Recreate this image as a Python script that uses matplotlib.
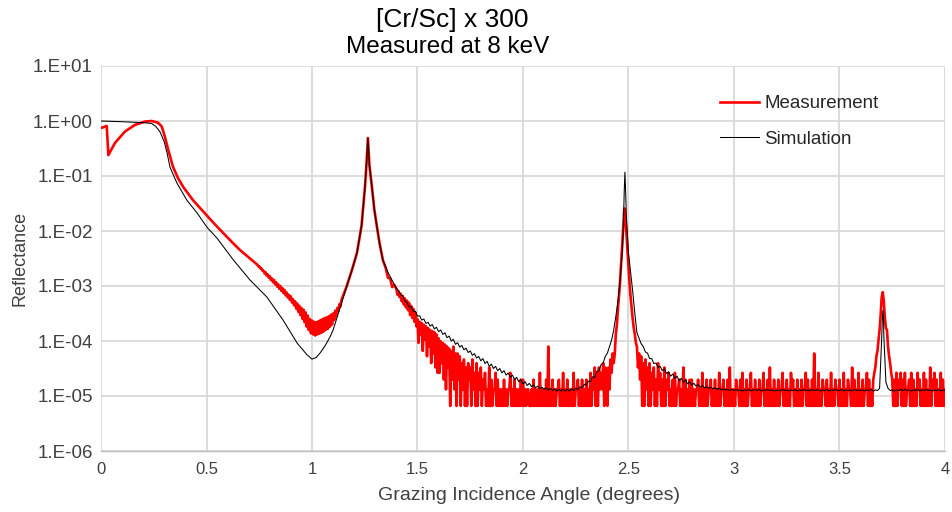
import numpy as np
import matplotlib
matplotlib.use("Agg")
import matplotlib.pyplot as plt
from matplotlib.ticker import FixedLocator, FuncFormatter

plt.rcParams["font.family"] = ["Liberation Sans", "DejaVu Sans"]

title = "[Cr/Sc] x 300"
subtitle = "Measured at 8 keV"
xlabel = "Grazing Incidence Angle (degrees)"
ylabel = "Reflectance"
xticks = [0, 0.5, 1, 1.5, 2, 2.5, 3, 3.5, 4]
yticks = [1e-6, 1e-5, 1e-4, 1e-3, 1e-2, 1e-1, 1e0, 1e1]

meas_x_a = [0.000, 0.006, 0.027, 0.035, 0.066, 0.114, 0.161, 0.209, 0.240, 0.270,
            0.288, 0.303, 0.319, 0.341, 0.365, 0.39, 0.436, 0.50, 0.54, 0.58,
            0.62, 0.66, 0.70]
meas_log_a = [-0.125, -0.12, -0.09, -0.62, -0.40, -0.19, -0.07, -0.01, 0.0, -0.03,
              -0.10, -0.29, -0.53, -0.83, -1.04, -1.20, -1.44, -1.71, -1.88, -2.04,
              -2.20, -2.35, -2.48]

# 0.740 .. 1.140 every 0.005 deg (noisy part around the minimum)
meas_log_b = [-2.61, -2.64, -2.64, -2.68, -2.68, -2.72, -2.72, -2.77, -2.75, -2.81,
              -2.79, -2.85, -2.82, -2.89, -2.86, -2.93, -2.89, -2.97, -2.93, -3.01,
              -2.97, -3.05, -3.00, -3.09, -3.04, -3.13, -3.07, -3.17,
              -3.12, -3.21, -3.16, -3.25, -3.19,
              -3.30, -3.24, -3.35, -3.28, -3.41, -3.32, -3.47, -3.36, -3.53, -3.40,
              -3.60, -3.43, -3.66, -3.48, -3.74, -3.54, -3.80, -3.60, -3.86, -3.63,
              -3.88, -3.65, -3.90, -3.66, -3.88, -3.64, -3.87, -3.62, -3.85, -3.60,
              -3.83, -3.58, -3.80, -3.57, -3.78, -3.55, -3.74, -3.52, -3.70, -3.50,
              -3.62, -3.45, -3.55, -3.40, -3.45, -3.33, -3.37, -3.25]

# first Bragg peak
meas_x_c = [1.165, 1.19, 1.213, 1.235, 1.251, 1.258, 1.265, 1.272, 1.284, 1.295,
            1.308, 1.32, 1.336, 1.35, 1.36, 1.37, 1.38, 1.39]
meas_log_c = [-3.0, -2.7, -2.4, -1.9, -1.2, -0.8, -0.31, -0.8, -1.2, -1.6,
              -1.93, -2.22, -2.53, -2.68, -2.85, -2.86, -3.02, -2.98]

# 1.400 .. 4.000 every 0.005 deg, detector counts
count_unit = 6.6e-6
meas_counts_tail = [
    135, 105, 120, 95, 110, 80, 100, 70, 90, 62, 82, 55, 75, 45, 66, 40, 58, 34, 50, 28,   # 1.40
    38, 14, 34, 20, 32, 10, 30, 16, 28, 8, 26, 12, 24, 6, 23, 9, 22, 5, 20, 4,            # 1.50
    17, 4, 15, 6, 14, 3, 13, 2, 12, 5, 11, 1, 10, 3, 12, 2, 9, 1, 9, 3,                   # 1.60
    8, 1, 6, 2, 7, 1, 5, 1, 6, 3, 5, 1, 7, 2, 4, 1, 6, 1, 4, 2,                           # 1.70
    5, 1, 3, 2, 4, 1, 2, 1, 5, 1, 3, 1, 2, 2, 4, 1, 3, 1, 2, 1,                           # 1.80
    2, 1, 3, 1, 2, 1, 2, 2, 4, 1, 2, 1, 3, 1, 2, 1, 2, 1, 3, 1,                           # 1.90
    3, 1, 2, 1, 2, 2, 1, 1, 2, 1, 3, 1, 2, 1, 2, 1, 4, 1, 2, 1,                           # 2.00
    2, 1, 3, 1, 12, 1, 2, 1, 3, 1, 2, 1, 2, 2, 3, 1, 2, 1, 4, 1,                          # 2.10
    2, 1, 3, 1, 2, 1, 2, 1, 4, 1, 2, 2, 3, 1, 2, 1, 3, 1, 2, 1,                           # 2.20
    3, 1, 2, 1, 4, 1, 3, 2, 5, 1, 4, 1, 5, 2, 4, 2, 6, 1, 5, 2,                           # 2.30
    1, 5, 2, 7, 4, 9, 6, 9, 20, 30, 60, 100, 180, 400, 800, 1800, 3900, 2600, 1400, 700,  # 2.40
    350, 170, 95, 60, 38, 26, 20, 14, 12, 5, 9, 3, 8, 1, 6, 1, 7, 2, 5, 1,                # 2.50
    6, 1, 4, 2, 5, 1, 3, 1, 6, 2, 4, 1, 3, 1, 5, 1, 3, 2, 4, 1,                           # 2.60
    2, 1, 3, 1, 4, 1, 2, 2, 3, 1, 2, 1, 5, 1, 3, 1, 2, 1, 3, 1,                           # 2.70
    3, 1, 2, 1, 2, 2, 3, 1, 2, 1, 4, 1, 2, 1, 3, 1, 2, 2, 3, 1,                           # 2.80
    2, 1, 3, 1, 2, 1, 4, 1, 2, 2, 3, 1, 2, 1, 3, 1, 5, 1, 2, 1,                           # 2.90
    2, 1, 3, 2, 2, 1, 3, 1, 4, 1, 2, 1, 3, 1, 2, 2, 4, 1, 2, 1,                           # 3.00
    3, 1, 2, 1, 3, 1, 2, 2, 4, 1, 2, 1, 3, 1, 5, 1, 2, 1, 3, 1,                           # 3.10
    2, 1, 3, 1, 2, 2, 4, 1, 2, 1, 3, 1, 2, 1, 4, 2, 3, 1, 2, 1,                           # 3.20
    3, 1, 2, 1, 3, 1, 2, 2, 4, 1, 3, 1, 2, 1, 3, 1, 9, 1, 2, 1,                           # 3.30
    4, 1, 2, 1, 3, 2, 2, 1, 3, 1, 2, 1, 4, 1, 2, 1, 3, 2, 2, 1,                           # 3.40
    3, 1, 2, 1, 4, 1, 2, 1, 3, 2, 2, 1, 5, 1, 3, 1, 2, 1, 4, 1,                           # 3.50
    2, 1, 3, 1, 2, 2, 4, 1, 3, 1, 2, 1, 3, 4, 5, 8, 10, 16, 24, 45,                       # 3.60
    95, 117, 80, 40, 26, 24, 12, 8, 6, 4, 3, 1, 3, 1, 4, 1, 3, 2, 4, 1,                   # 3.70
    3, 1, 4, 1, 2, 2, 3, 1, 4, 1, 3, 1, 2, 1, 4, 2, 3, 1, 2, 1,                           # 3.80
    4, 1, 3, 1, 2, 1, 5, 1, 3, 2, 4, 1, 3, 1, 2, 1, 4, 1, 3, 1,                           # 3.90
    2]

# ---- simulation (log10 of reflectance) ----
sim_x_a = [0.00, 0.10, 0.20, 0.24, 0.26, 0.28, 0.30, 0.313, 0.327, 0.36,
           0.407, 0.455, 0.502, 0.55, 0.626, 0.706, 0.786, 0.863, 0.93, 0.976,
           1.00, 1.02, 1.038, 1.06, 1.085, 1.10, 1.133, 1.165, 1.19, 1.213,
           1.235, 1.251, 1.258, 1.265, 1.272, 1.284, 1.295, 1.308, 1.32, 1.336,
           1.36, 1.38]
sim_log_a = [0.00, -0.013, -0.03, -0.045, -0.10, -0.20, -0.38, -0.58, -0.84, -1.13,
             -1.44, -1.67, -1.93, -2.13, -2.52, -2.89, -3.2, -3.62, -4.04, -4.25,
             -4.33, -4.30, -4.22, -4.10, -3.93, -3.80, -3.40, -3.0, -2.7, -2.4,
             -1.9, -1.2, -0.8, -0.31, -0.8, -1.2, -1.6, -1.93, -2.22, -2.53,
             -2.75, -2.9]

# 1.40 .. 4.00 every 0.01 deg
sim_log_tail = [
    -3.05, -3.08, -3.16, -3.18, -3.27, -3.30, -3.38, -3.38, -3.46, -3.46,
    -3.55, -3.54, -3.62, -3.60, -3.68, -3.66, -3.73, -3.70, -3.78, -3.75,
    -3.83, -3.80, -3.88, -3.85, -3.94, -3.91, -4.00, -3.97, -4.06, -4.03,
    -4.11, -4.08, -4.16, -4.13, -4.21, -4.18, -4.26, -4.23, -4.31, -4.28,
    -4.36, -4.32, -4.41, -4.37, -4.46, -4.42, -4.50, -4.46, -4.54, -4.50,
    -4.58, -4.54, -4.62, -4.58, -4.66, -4.62, -4.70, -4.66, -4.74, -4.70,
    -4.78, -4.74, -4.81, -4.77, -4.83, -4.80, -4.85, -4.82, -4.87, -4.84,
    -4.88, -4.85, -4.89, -4.86, -4.90, -4.87, -4.91, -4.88, -4.91, -4.88,
    -4.91, -4.88, -4.91, -4.87, -4.90, -4.86, -4.88, -4.83, -4.85, -4.79,
    -4.80, -4.73, -4.74, -4.65, -4.66, -4.55, -4.54, -4.43, -4.40, -4.28,
    -4.22, -4.10, -3.98, -3.80, -3.55, -3.28, -2.90, -2.40, -1.25, -1.75,
    -2.40, -2.75, -3.10, -3.50, -3.85, -3.95, -4.05, -4.10, -4.20, -4.22,
    -4.32, -4.32, -4.41, -4.40, -4.48, -4.46, -4.54, -4.51, -4.59, -4.56,
    -4.64, -4.60, -4.68, -4.64, -4.72, -4.68, -4.75, -4.71, -4.78, -4.74,
    -4.80, -4.77, -4.82, -4.79, -4.84, -4.81, -4.85, -4.83, -4.86, -4.84,
    -4.87, -4.85, -4.88, -4.86, -4.89, -4.87, -4.89, -4.88, -4.90, -4.88,
    -4.90, -4.88, -4.90, -4.89, -4.91, -4.89, -4.90, -4.88, -4.91, -4.89,
    -4.89, -4.90, -4.88, -4.91, -4.89, -4.90, -4.88, -4.90, -4.89, -4.91,
    -4.90, -4.89, -4.91, -4.88, -4.90, -4.89, -4.91, -4.89, -4.90, -4.88,
    -4.91, -4.89, -4.90, -4.88, -4.90, -4.89, -4.91, -4.88, -4.90, -4.89,
    -4.89, -4.91, -4.89, -4.90, -4.88, -4.91, -4.89, -4.90, -4.88, -4.90,
    -4.90, -4.88, -4.91, -4.89, -4.90, -4.89, -4.91, -4.88, -4.90, -4.89,
    -4.90, -4.89, -4.91, -4.89, -4.90, -4.88, -4.91, -4.89, -4.90, -4.86,
    -3.95, -3.90, -4.75, -4.86, -4.90, -4.89, -4.91, -4.89, -4.90, -4.88,
    -4.90, -4.88, -4.90, -4.89, -4.91, -4.89, -4.90, -4.88, -4.91, -4.89,
    -4.90, -4.88, -4.90, -4.89, -4.91, -4.89, -4.90, -4.88, -4.91, -4.89,
    -4.90]

# narrow simulated peak tips between grid points
sim_x_peak = [2.475, 2.483, 2.487, 3.703, 3.706, 3.709]
sim_log_peak = [-2.0, -0.93, -1.35, -3.6, -3.44, -3.65]

# ---- assemble ----
grid_b = np.arange(148, 229) / 200          # 0.740 .. 1.140
grid_meas_tail = np.arange(280, 801) / 200  # 1.400 .. 4.000
grid_sim_tail = np.arange(140, 401) / 100   # 1.40 .. 4.00

meas_x = np.concatenate([meas_x_a, grid_b, meas_x_c, grid_meas_tail])
meas_y = np.concatenate([10 ** np.array(meas_log_a), 10 ** np.array(meas_log_b),
                         10 ** np.array(meas_log_c),
                         np.array(meas_counts_tail) * count_unit])

sim_x = np.concatenate([sim_x_a, grid_sim_tail, sim_x_peak])
sim_y = 10 ** np.concatenate([sim_log_a, sim_log_tail, sim_log_peak])
order = np.argsort(sim_x, kind="stable")
sim_x, sim_y = sim_x[order], sim_y[order]

fig = plt.figure(figsize=(9.52, 5.12), dpi=100)
ax = fig.add_axes([101 / 952, 1 - 451 / 512, 844 / 952, 385 / 512])

ax.plot(meas_x, meas_y, color="#ff0000", linewidth=1.9, label="Measurement", zorder=2)
ax.plot(sim_x, sim_y, color="black", linewidth=0.75, label="Simulation", zorder=3)

ax.set_yscale("log")
ax.set_xlim(0, 4)
ax.set_ylim(1e-6, 1e1)
ax.xaxis.set_major_locator(FixedLocator(xticks))
ax.xaxis.set_major_formatter(FuncFormatter(lambda v, p: f"{v:g}"))
ax.yaxis.set_major_locator(FixedLocator(yticks))
ax.yaxis.set_minor_locator(FixedLocator([]))
ax.yaxis.set_major_formatter(
    FuncFormatter(lambda v, p: f"1.E{int(round(np.log10(v))):+03d}"))

ax.grid(True, color="#d9d9d9", linewidth=1.3, zorder=0)
ax.set_axisbelow(True)
ax.tick_params(length=0, colors="#404040")
ax.tick_params(axis="x", labelsize=12, pad=8)
ax.tick_params(axis="y", labelsize=13.5, pad=6)
for s in ["top", "right", "left"]:
    ax.spines[s].set_visible(False)
ax.spines["bottom"].set_color("#bfbfbf")
ax.spines["bottom"].set_linewidth(1.0)

ax.set_xlabel(xlabel, fontsize=14, color="#404040")
ax.set_ylabel(ylabel, fontsize=13, color="#404040", labelpad=3)
ax.xaxis.label.set_va("center")
ax.xaxis.set_label_coords((529 - 101) / 844, -(495 - 451) / 385)

fig.text(452 / 952, 1 - 20 / 512, title, ha="center", va="center", fontsize=19)
fig.text(448 / 952, 1 - 47 / 512, subtitle, ha="center", va="center", fontsize=17.5)

leg = ax.legend(loc="upper left", bbox_to_anchor=(720 / 952, 1 - 95 / 512),
                bbox_transform=fig.transFigure, frameon=False, fontsize=13.5,
                handlelength=2.1, handletextpad=0.25, labelspacing=1.0,
                borderpad=0, borderaxespad=0)
for t in leg.get_texts():
    t.set_color("#262626")

fig.savefig("out.png", dpi=100)
